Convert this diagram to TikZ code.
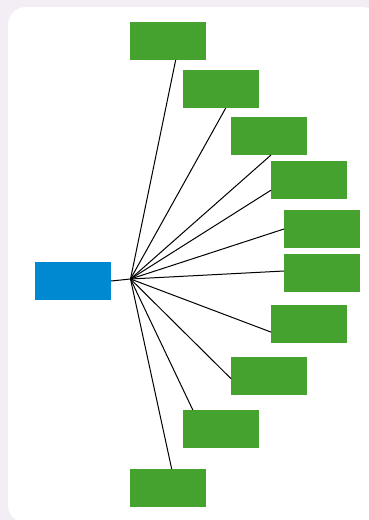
\documentclass[tikz,border=0pt]{standalone}
\usepackage{tikz}
\definecolor{leafgreen}{RGB}{70,162,46}
\definecolor{rootblue}{RGB}{0,136,209}
\definecolor{lavender}{RGB}{243,238,246}

\begin{document}
\begin{tikzpicture}[x=1pt, y=-1pt,
        leafnode/.style={rectangle, fill=leafgreen, minimum width=76pt, minimum height=38pt, inner sep=0pt, outer sep=0pt},
        rootnode/.style={rectangle, fill=rootblue, minimum width=76pt, minimum height=38pt, inner sep=0pt, outer sep=0pt},
        spoke/.style={black, line width=1pt}]
        \useasboundingbox (0,0) rectangle (369,520);
        \fill[lavender] (0,0) rectangle (369,520);
        \begin{scope}
            \clip (0,0) rectangle (369,520);
            \fill[white, rounded corners=18pt] (8,7) rectangle (380,523);
        \end{scope}
        \node[rootnode] (root) at (73,281) {};
        \coordinate (hub) at (130.5,279);
        \node[leafnode] (leafa) at (168,41) {};
        \node[leafnode] (leafb) at (221,89) {};
        \node[leafnode] (leafc) at (269,136) {};
        \node[leafnode] (leafd) at (309,180) {};
        \node[leafnode] (leafe) at (322,229) {};
        \node[leafnode] (leaff) at (322,273) {};
        \node[leafnode] (leafg) at (309,324) {};
        \node[leafnode] (leafh) at (269,376) {};
        \node[leafnode] (leafi) at (221,429) {};
        \node[leafnode] (leafj) at (168,488) {};
        \draw[spoke] (root.east) -- (hub);
        \draw[spoke] (hub) -- (leafa.-68);
        \draw[spoke] (hub) -- (leafb.-76);
        \draw[spoke] (hub) -- (leafc.-84);
        \draw[spoke] (hub) -- (leafd.195);
        \draw[spoke] (hub) -- (leafe.180);
        \draw[spoke] (hub) -- (leaff.177);
        \draw[spoke] (hub) -- (leafg.192);
        \draw[spoke] (hub) -- (leafh.184);
        \draw[spoke] (hub) -- (leafi.146);
        \draw[spoke] (hub) -- (leafj.79);
\end{tikzpicture}
\end{document}
